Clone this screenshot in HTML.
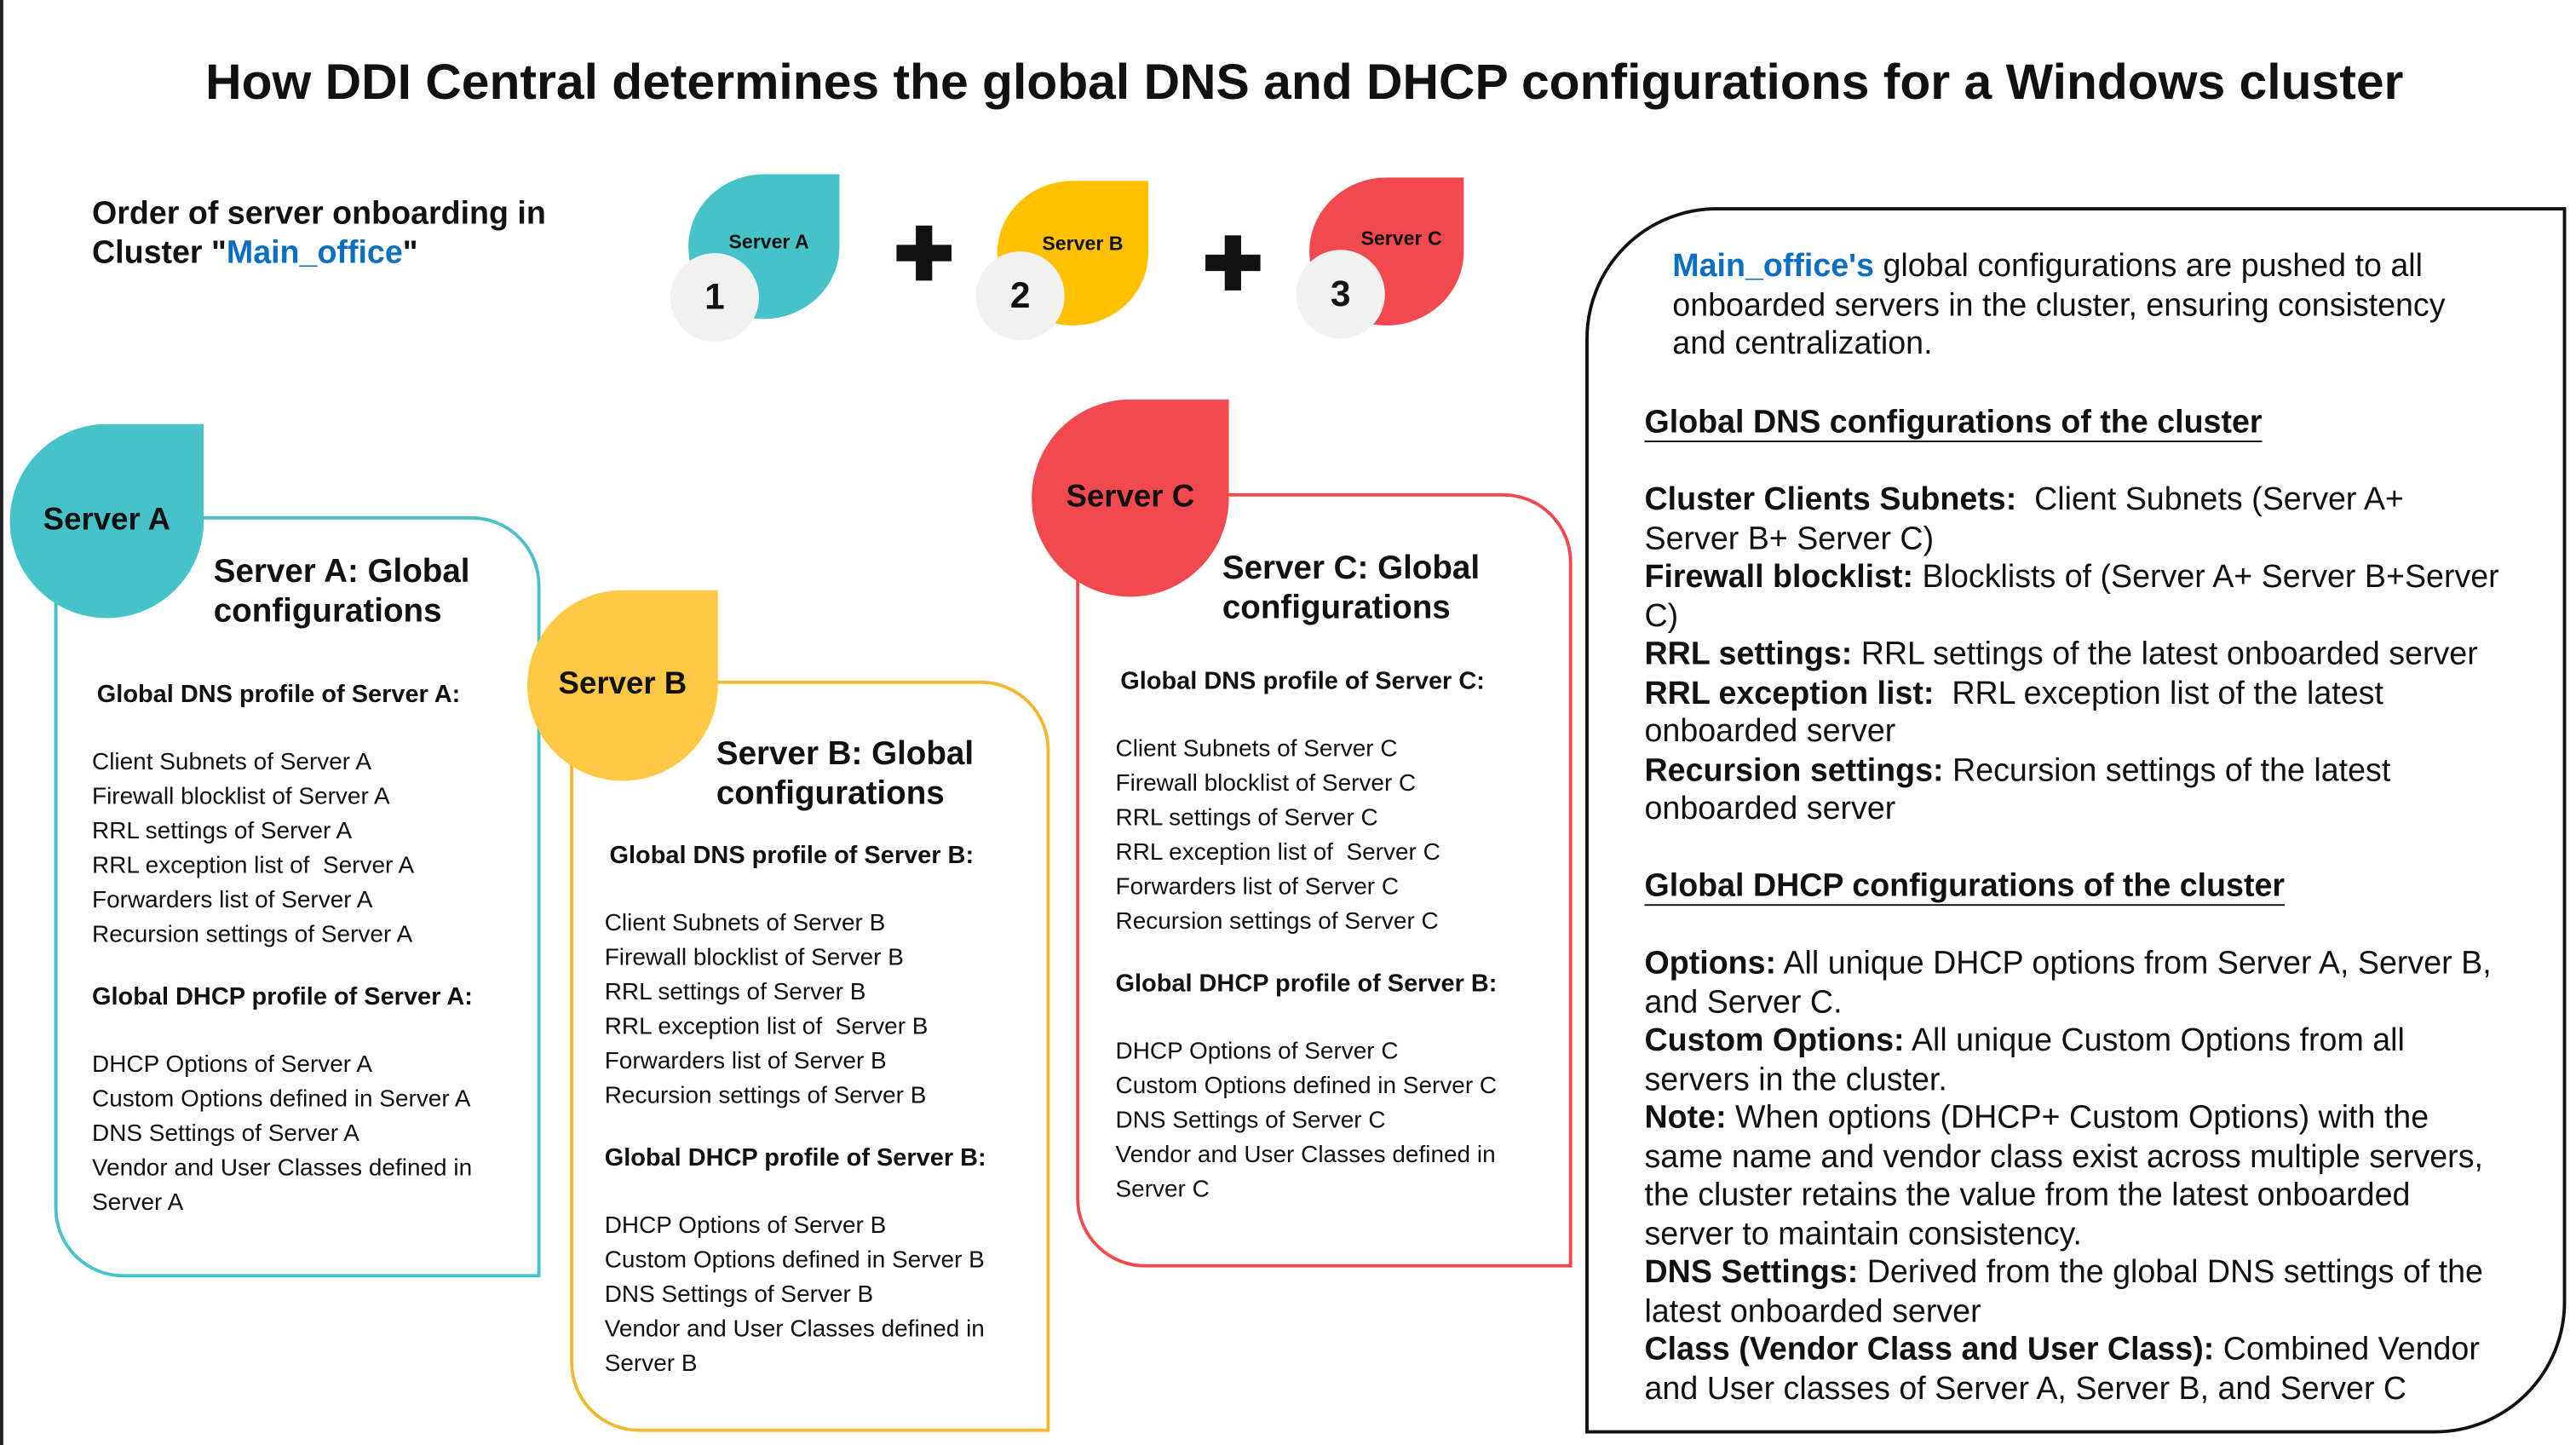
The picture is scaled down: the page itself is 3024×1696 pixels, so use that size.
<!DOCTYPE html>
<html><head><meta charset="utf-8">
<style>
html,body{margin:0;padding:0;background:#fff;}
body{width:3024px;height:1696px;overflow:hidden;position:relative;}
#s{position:absolute;left:0;top:0;width:1568px;height:879px;transform:scale(1.92857,1.9295);transform-origin:0 0;font-family:"Liberation Sans",sans-serif;color:#111;}
.a{position:absolute;}
.leaf{position:absolute;border-radius:50% 0 50% 50%;font-weight:bold;display:flex;align-items:center;justify-content:center;color:#111;}
.num{position:absolute;width:54px;height:54px;border-radius:50%;background:#f1f1f1;font-weight:bold;font-size:22px;display:flex;align-items:center;justify-content:center;}
.plus{position:absolute;font-size:44px;font-weight:bold;line-height:1;}
.card{position:absolute;border:2px solid;border-radius:0 42px 0 42px;box-sizing:border-box;}
.ct{position:absolute;font-size:20px;font-weight:bold;line-height:24px;}
.cl{position:absolute;font-size:14.5px;line-height:21px;white-space:nowrap;}
.cl b{display:block;font-size:15px;}
.rp{position:absolute;left:965px;top:126px;width:597px;height:746px;border:2px solid #111;box-sizing:border-box;border-radius:80px 0 80px 0;}
.rt{position:absolute;left:1001px;font-size:19.5px;line-height:23.5px;white-space:nowrap;}
.blue{color:#0a6fc2;font-weight:bold;}
.h{font-weight:bold;text-decoration:underline;text-underline-offset:5px;}
</style></head><body><div id="s">
<div class="a" style="left:0;top:0;width:2px;height:879px;background:#222"></div>
<div class="a" style="left:0;top:33px;width:1588px;text-align:center;font-size:30.5px;font-weight:bold;">How DDI Central determines the global DNS and DHCP configurations for a Windows cluster</div>
<div class="a" style="left:56px;top:118px;font-size:19.5px;font-weight:bold;line-height:24px;">Order of server onboarding in<br>Cluster "<span style="color:#0a6fc2">Main_office</span>"</div>

<div class="leaf" style="left:419px;top:106px;width:92px;height:88px;background:#45c3c8;font-size:12px;padding-left:6px;padding-bottom:6px;box-sizing:border-box;">Server A</div>
<div class="num" style="left:408px;top:154px;">1</div>
<div class="plus" style="left:544px;top:134px;">✚</div>
<div class="leaf" style="left:607px;top:110px;width:92px;height:88px;background:#ffc000;font-size:12px;padding-left:12px;padding-bottom:12px;box-sizing:border-box;">Server B</div>
<div class="num" style="left:594px;top:153px;">2</div>
<div class="plus" style="left:732px;top:140px;">✚</div>
<div class="leaf" style="left:797px;top:108px;width:94px;height:90px;background:#f2494e;font-size:12px;padding-left:18px;padding-bottom:16px;box-sizing:border-box;">Server C</div>
<div class="num" style="left:789px;top:152px;">3</div>

<!-- Card A -->
<div class="card" style="left:33px;top:314px;width:296px;height:463px;border-color:#45c3c8;"></div>
<div class="leaf" style="left:6px;top:258px;width:118px;height:118px;background:#45c3c8;font-size:19px;">Server A</div>
<div class="ct" style="left:130px;top:336px;">Server A: Global<br>configurations</div>
<div class="cl" style="left:56px;top:412px;"><b style="margin-left:3px">Global DNS profile of Server A:</b><br>Client Subnets of Server A<br>Firewall blocklist of Server A<br>RRL settings of Server A<br>RRL exception list of &nbsp;Server A<br>Forwarders list of Server A<br>Recursion settings of Server A<br><div style="height:16px"></div><b>Global DHCP profile of Server A:</b><br>DHCP Options of Server A<br>Custom Options defined in Server A<br>DNS Settings of Server A<br>Vendor and User Classes defined in<br>Server A</div>

<!-- Card B -->
<div class="card" style="left:347px;top:414px;width:292px;height:457px;border-color:#f5b731;"></div>
<div class="leaf" style="left:321px;top:359px;width:116px;height:116px;background:#ffc845;font-size:19px;">Server B</div>
<div class="ct" style="left:436px;top:447px;">Server B: Global<br>configurations</div>
<div class="cl" style="left:368px;top:510px;"><b style="margin-left:3px">Global DNS profile of Server B:</b><br>Client Subnets of Server B<br>Firewall blocklist of Server B<br>RRL settings of Server B<br>RRL exception list of &nbsp;Server B<br>Forwarders list of Server B<br>Recursion settings of Server B<br><div style="height:16px"></div><b>Global DHCP profile of Server B:</b><br>DHCP Options of Server B<br>Custom Options defined in Server B<br>DNS Settings of Server B<br>Vendor and User Classes defined in<br>Server B</div>

<!-- Card C -->
<div class="card" style="left:655px;top:300px;width:302px;height:471px;border-color:#f2494e;"></div>
<div class="leaf" style="left:628px;top:243px;width:120px;height:120px;background:#f2494e;font-size:19px;">Server C</div>
<div class="ct" style="left:744px;top:334px;">Server C: Global<br>configurations</div>
<div class="cl" style="left:679px;top:404px;"><b style="margin-left:3px">Global DNS profile of Server C:</b><br>Client Subnets of Server C<br>Firewall blocklist of Server C<br>RRL settings of Server C<br>RRL exception list of &nbsp;Server C<br>Forwarders list of Server C<br>Recursion settings of Server C<br><div style="height:16px"></div><b>Global DHCP profile of Server B:</b><br>DHCP Options of Server C<br>Custom Options defined in Server C<br>DNS Settings of Server C<br>Vendor and User Classes defined in<br>Server C</div>

<!-- Right panel -->
<div class="rp"></div>
<div class="rt" style="left:1018px;top:151px;"><span class="blue">Main_office's</span> global configurations are pushed to all<br>onboarded servers in the cluster, ensuring consistency<br>and centralization.</div>
<div class="rt" style="top:246px;"><span class="h">Global DNS configurations of the cluster</span></div>
<div class="rt" style="top:293px;"><b>Cluster Clients Subnets:</b>&nbsp; Client Subnets (Server A+<br>Server B+ Server C)<br><b>Firewall blocklist:</b> Blocklists of (Server A+ Server B+Server<br>C)<br><b>RRL settings:</b> RRL settings of the latest onboarded server<br><b>RRL exception list:</b>&nbsp; RRL exception list of the latest<br>onboarded server<br><b>Recursion settings:</b> Recursion settings of the latest<br>onboarded server</div>
<div class="rt" style="top:528px;"><span class="h">Global DHCP configurations of the cluster</span></div>
<div class="rt" style="top:575px;"><b>Options:</b> All unique DHCP options from Server A, Server B,<br>and Server C.<br><b>Custom Options:</b> All unique Custom Options from all<br>servers in the cluster.<br><b>Note:</b> When options (DHCP+ Custom Options) with the<br>same name and vendor class exist across multiple servers,<br>the cluster retains the value from the latest onboarded<br>server to maintain consistency.<br><b>DNS Settings:</b> Derived from the global DNS settings of the<br>latest onboarded server<br><b>Class (Vendor Class and User Class):</b> Combined Vendor<br>and User classes of Server A, Server B, and Server C</div>
</div></body></html>
